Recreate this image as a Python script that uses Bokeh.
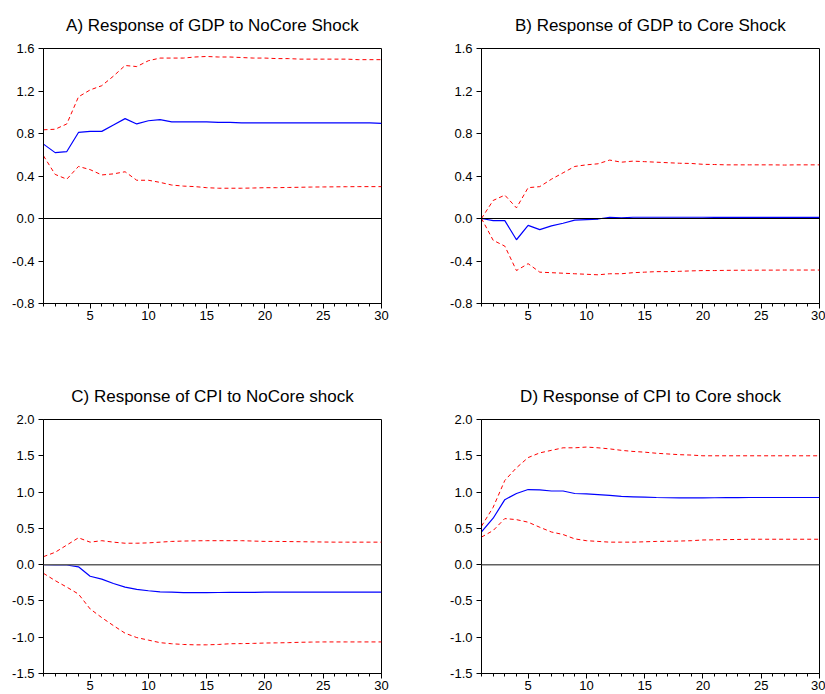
from bokeh.plotting import figure
from bokeh.layouts import column, row
from bokeh.models import Range1d, FixedTicker, NumeralTickFormatter, Span
from bokeh.embed import file_html
from bokeh.resources import INLINE

periods = list(range(1, 31))

# A) GDP to NoCore shock
a_mid = [0.70, 0.62, 0.63, 0.81, 0.82, 0.82, 0.88, 0.94, 0.89, 0.92, 0.93, 0.91, 0.91, 0.91, 0.91,
         0.905, 0.905, 0.90, 0.90, 0.90, 0.90, 0.90, 0.90, 0.90, 0.90, 0.90, 0.90, 0.90, 0.90, 0.895]
a_up = [0.835, 0.84, 0.89, 1.145, 1.21, 1.25, 1.34, 1.44, 1.43, 1.485, 1.51, 1.51, 1.51, 1.52, 1.525,
        1.52, 1.52, 1.515, 1.51, 1.51, 1.505, 1.505, 1.50, 1.50, 1.50, 1.50, 1.50, 1.495, 1.495, 1.495]
a_lo = [0.59, 0.415, 0.37, 0.49, 0.46, 0.41, 0.42, 0.44, 0.36, 0.36, 0.34, 0.315, 0.305, 0.30, 0.29,
        0.285, 0.285, 0.285, 0.287, 0.29, 0.29, 0.292, 0.294, 0.296, 0.297, 0.298, 0.299, 0.30, 0.30, 0.30]

# B) GDP to Core shock
b_mid = [0.0, -0.02, -0.02, -0.20, -0.065, -0.105, -0.07, -0.045, -0.015, -0.01, -0.005, 0.012, 0.005,
         0.012, 0.012, 0.012, 0.012, 0.012, 0.012, 0.012, 0.011, 0.011, 0.011, 0.011, 0.01, 0.01, 0.01,
         0.01, 0.01, 0.01]
b_up = [0.0, 0.17, 0.22, 0.10, 0.29, 0.30, 0.37, 0.43, 0.49, 0.505, 0.515, 0.55, 0.53, 0.54, 0.535,
        0.53, 0.525, 0.52, 0.518, 0.51, 0.508, 0.505, 0.505, 0.505, 0.505, 0.505, 0.503, 0.505, 0.505, 0.505]
b_lo = [0.0, -0.205, -0.26, -0.49, -0.425, -0.505, -0.51, -0.515, -0.52, -0.525, -0.53, -0.52, -0.52,
        -0.51, -0.505, -0.50, -0.50, -0.497, -0.493, -0.49, -0.49, -0.488, -0.487, -0.487, -0.486,
        -0.486, -0.485, -0.485, -0.485, -0.485]

# C) CPI to NoCore shock
c_mid = [0.0, -0.005, -0.005, -0.03, -0.16, -0.20, -0.26, -0.31, -0.34, -0.36, -0.375, -0.38, -0.385,
         -0.385, -0.385, -0.384, -0.383, -0.382, -0.381, -0.38, -0.38, -0.379, -0.379, -0.379, -0.378,
         -0.378, -0.378, -0.378, -0.378, -0.378]
c_up = [0.11, 0.17, 0.27, 0.37, 0.31, 0.33, 0.31, 0.295, 0.295, 0.30, 0.31, 0.32, 0.325, 0.328, 0.33,
        0.33, 0.33, 0.33, 0.325, 0.32, 0.32, 0.318, 0.316, 0.314, 0.312, 0.31, 0.31, 0.31, 0.31, 0.31]
c_lo = [-0.12, -0.22, -0.31, -0.405, -0.61, -0.73, -0.84, -0.945, -1.005, -1.04, -1.075, -1.09, -1.10,
        -1.105, -1.105, -1.10, -1.09, -1.088, -1.085, -1.08, -1.078, -1.075, -1.07, -1.067, -1.065,
        -1.065, -1.065, -1.065, -1.065, -1.065]

# D) CPI to Core shock
d_mid = [0.45, 0.64, 0.895, 0.98, 1.035, 1.03, 1.015, 1.015, 0.98, 0.975, 0.965, 0.955, 0.94, 0.935,
         0.93, 0.925, 0.922, 0.92, 0.92, 0.92, 0.922, 0.923, 0.924, 0.925, 0.925, 0.925, 0.925, 0.925,
         0.925, 0.925]
d_up = [0.53, 0.79, 1.16, 1.335, 1.475, 1.54, 1.575, 1.61, 1.61, 1.62, 1.61, 1.595, 1.575, 1.56, 1.55,
        1.535, 1.525, 1.515, 1.51, 1.50, 1.50, 1.50, 1.50, 1.50, 1.50, 1.50, 1.50, 1.50, 1.50, 1.50]
d_lo = [0.38, 0.47, 0.635, 0.62, 0.585, 0.515, 0.45, 0.415, 0.355, 0.33, 0.32, 0.31, 0.31, 0.31, 0.315,
        0.32, 0.322, 0.325, 0.33, 0.34, 0.342, 0.345, 0.347, 0.35, 0.35, 0.35, 0.35, 0.35, 0.35, 0.35]

titles = ["A) Response of GDP to NoCore Shock", "B) Response of GDP to Core Shock",
          "C) Response of CPI to NoCore shock", "D) Response of CPI to Core shock"]
gdp_ticks = [-0.8, -0.4, 0.0, 0.4, 0.8, 1.2, 1.6]
cpi_ticks = [-1.5, -1.0, -0.5, 0.0, 0.5, 1.0, 1.5, 2.0]
x_major = [5, 10, 15, 20, 25, 30]

FONT = "Liberation Sans"


def panel(title, mid, up, lo, yticks, width, height, bl, br, bt, bb, zero_color, zero_width):
    p = figure(width=width, height=height, output_backend="svg", toolbar_location=None,
               x_range=Range1d(1, 30), y_range=Range1d(yticks[0], yticks[-1]),
               min_border_left=bl, min_border_right=br, min_border_top=bt, min_border_bottom=bb,
               background_fill_color="white", border_fill_color="white")
    p.title.text = title
    p.title.align = "center"
    p.title.vertical_align = "middle"
    p.title.text_font = FONT
    p.title.text_font_size = "17px"
    p.title.text_font_style = "normal"
    p.title.text_color = "black"
    p.title.standoff = 25
    p.outline_line_color = "black"
    p.outline_line_width = 1
    p.xgrid.visible = False
    p.ygrid.visible = False

    p.xaxis.ticker = FixedTicker(ticks=x_major, minor_ticks=periods)
    p.xaxis.major_tick_out = 5
    p.xaxis.major_tick_in = 0
    p.xaxis.minor_tick_out = 3
    p.xaxis.minor_tick_in = 0
    p.xaxis.major_label_standoff = 2

    p.yaxis.ticker = FixedTicker(ticks=yticks, minor_ticks=[])
    p.yaxis.formatter = NumeralTickFormatter(format="0.0")
    p.yaxis.major_tick_out = 5
    p.yaxis.major_tick_in = 0
    p.yaxis.minor_tick_out = 0
    p.yaxis.minor_tick_in = 0
    p.yaxis.major_label_standoff = 4

    for ax in (p.xaxis, p.yaxis):
        ax.axis_line_color = "black"
        ax.major_tick_line_color = "black"
        ax.minor_tick_line_color = "black"
        ax.major_label_text_font = FONT
        ax.major_label_text_font_size = "13px"
        ax.major_label_text_color = "black"

    p.add_layout(Span(location=0, dimension="width", line_color=zero_color, line_width=zero_width))
    p.line(periods, up, line_color="red", line_width=1, line_dash="4 3")
    p.line(periods, lo, line_color="red", line_width=1, line_dash="4 3")
    p.line(periods, mid, line_color="blue", line_width=1.2)
    return p


pA = panel(titles[0], a_mid, a_up, a_lo, gdp_ticks, 444, 371, 43, 63, 48, 68, "black", 1)
pB = panel(titles[1], b_mid, b_up, b_lo, gdp_ticks, 381, 371, 37, 6, 48, 68, "black", 1)
pC = panel(titles[2], c_mid, c_up, c_lo, cpi_ticks, 444, 323, 43, 63, 48, 21, "#606060", 1.5)
pD = panel(titles[3], d_mid, d_up, d_lo, cpi_ticks, 381, 323, 37, 6, 48, 21, "#606060", 1.5)

layout = column(row(pA, pB), row(pC, pD))

open("out.html", "w").write(file_html(layout, INLINE))
